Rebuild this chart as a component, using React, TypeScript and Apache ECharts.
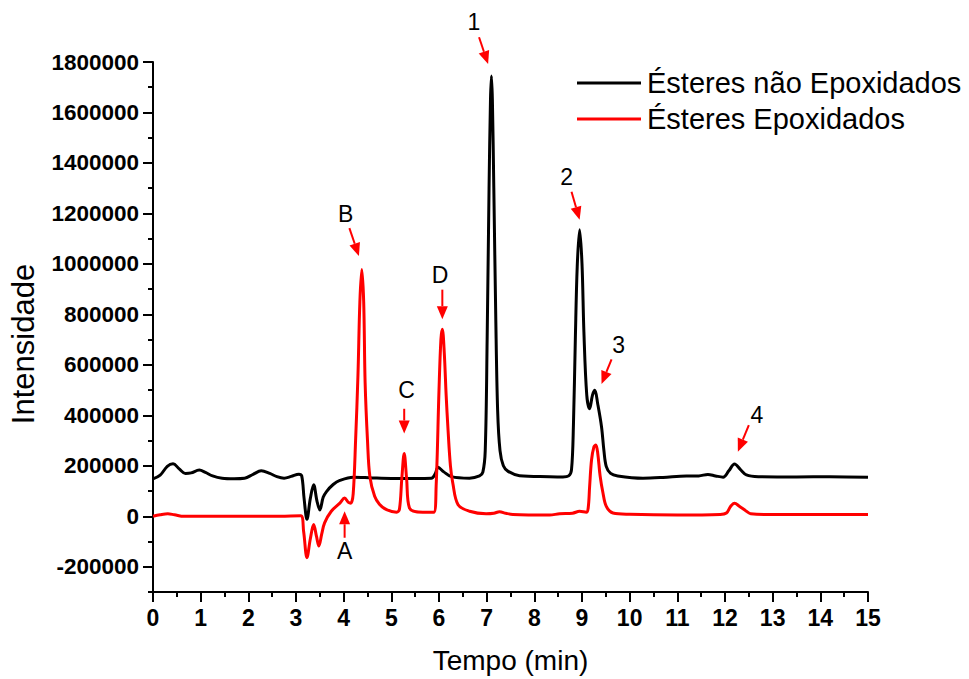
import React, { useEffect, useRef } from "react";
import * as echarts from "echarts";

const FONT = '"Liberation Sans", Arial, Helvetica, sans-serif';

const seriesNames = ["Ésteres não Epoxidados", "Ésteres Epoxidados"];
const seriesColors = ["#000000", "#ff0000"];

// Tempo (min), Intensidade
const naoEpoxidados: [number, number][] = [
  [0, 148000], [0.15, 163000], [0.3, 198000], [0.42, 208000], [0.55, 188000], [0.68, 170000],
  [0.8, 172000], [0.97, 183000], [1.1, 174000], [1.25, 160000], [1.45, 151000], [1.7, 149000],
  [1.92, 151000], [2.1, 166000], [2.27, 180000], [2.45, 170000], [2.6, 157000], [2.75, 151000],
  [2.9, 158000], [3.06, 167000], [3.12, 160000], [3.17, 70000], [3.23, -12000], [3.3, 70000],
  [3.37, 125000], [3.44, 60000], [3.5, 25000], [3.57, 75000], [3.64, 98000], [3.78, 126000],
  [3.92, 142000], [4.2, 155000], [4.6, 152000], [5.0, 150000], [5.5, 150000], [5.84, 151000],
  [5.92, 168000], [5.98, 194000], [6.1, 176000], [6.26, 157000], [6.64, 151000], [6.85, 160000],
  [6.92, 175000], [6.97, 260000], [7.01, 700000], [7.05, 1300000], [7.08, 1650000], [7.1, 1745000],
  [7.12, 1650000], [7.15, 1300000], [7.19, 800000], [7.23, 420000], [7.28, 260000], [7.35, 200000],
  [7.45, 178000], [7.69, 161000], [8.32, 157000], [8.6, 156000], [8.72, 160000], [8.78, 185000],
  [8.82, 360000], [8.86, 700000], [8.9, 990000], [8.95, 1135000], [9.0, 1000000], [9.04, 730000],
  [9.1, 480000], [9.16, 426000], [9.22, 480000], [9.27, 499000], [9.33, 445000], [9.41, 354000],
  [9.46, 260000], [9.51, 197000], [9.6, 170000], [9.75, 160000], [10.28, 151000], [10.7, 154000],
  [11.19, 160000], [11.45, 160000], [11.64, 166000], [11.8, 160000], [11.96, 155000], [12.08, 180000],
  [12.2, 207000], [12.32, 186000], [12.45, 164000], [12.7, 157000], [13.5, 156000], [14.2, 157000],
  [15, 155000],
];

const epoxidados: [number, number][] = [
  [0, 0], [0.15, 6000], [0.31, 10000], [0.45, 6000], [0.65, 0], [1.5, 0], [2.5, 0], [3.1, 2000],
  [3.16, -60000], [3.23, -164000], [3.3, -90000], [3.37, -33000], [3.43, -80000], [3.48, -118000],
  [3.54, -70000], [3.6, -26000], [3.74, 20000], [3.92, 52000], [4.02, 72000], [4.1, 55000],
  [4.15, 52000], [4.2, 90000], [4.25, 300000], [4.3, 560000], [4.34, 850000], [4.38, 978000],
  [4.42, 850000], [4.45, 530000], [4.5, 300000], [4.55, 157000], [4.65, 79000], [4.75, 48000],
  [4.9, 26000], [5.11, 16000], [5.17, 28000], [5.22, 150000], [5.27, 249000], [5.32, 150000],
  [5.38, 33000], [5.66, 16000], [5.89, 16000], [5.94, 120000], [6.0, 500000], [6.04, 700000],
  [6.07, 741000], [6.11, 650000], [6.15, 480000], [6.19, 341000], [6.24, 200000], [6.29, 131000],
  [6.4, 46000], [6.64, 20000], [6.99, 10000], [7.15, 12000], [7.27, 18000], [7.4, 12000],
  [7.55, 7000], [8.32, 5000], [8.53, 10000], [8.8, 12000], [8.95, 20000], [9.09, 16000],
  [9.13, 33000], [9.16, 118000], [9.2, 223000], [9.25, 275000], [9.29, 282000], [9.33, 250000],
  [9.38, 160000], [9.44, 92000], [9.51, 39000], [9.65, 13000], [10, 8000], [11, 5000],
  [11.9, 7000], [12.03, 13000], [12.12, 40000], [12.2, 52000], [12.3, 40000], [12.45, 20000],
  [12.54, 10000], [13, 7000], [15, 7000],
];

const yTickValues = [
  -200000, 0, 200000, 400000, 600000, 800000, 1000000, 1200000, 1400000, 1600000, 1800000,
];

// Peak marks: label text, label centre, arrow tail and arrow tip (data coordinates)
const peakLabels = ["1", "2", "3", "4", "A", "B", "C", "D"];
const labelAt: [number, number][] = [
  [6.73, 1960000], [8.68, 1346000], [9.77, 677000], [12.67, 402000],
  [4.02, -136000], [4.04, 1197000], [5.32, 499000], [6.02, 957000],
];
const arrowFrom: [number, number][] = [
  [6.84, 1898000], [8.78, 1286000], [9.62, 622000], [12.5, 361000],
  [4.02, -85000], [4.12, 1142000], [5.27, 426000], [6.07, 898000],
];
const arrowTo: [number, number][] = [
  [7.03, 1792000], [8.95, 1175000], [9.41, 524000], [12.27, 256000],
  [4.02, 20000], [4.32, 1031000], [5.27, 328000], [6.07, 781000],
];

export default function App() {
  const ref = useRef<HTMLDivElement>(null);

  useEffect(() => {
    document.body.style.margin = "0";
    if (!ref.current) return;
    const chart = echarts.init(ref.current, null, { renderer: "svg" });

    const axisLineStyle = { color: "#000", width: 2 };

    chart.setOption({
      animation: false,
      backgroundColor: "#ffffff",
      grid: { left: 153, right: 101, top: 62, bottom: 83 },
      legend: {
        orient: "vertical",
        left: 572,
        top: 63,
        icon: "rect",
        itemWidth: 64,
        itemHeight: 3,
        itemGap: 6,
        data: seriesNames,
        textStyle: {
          color: "#000",
          fontSize: 29,
          lineHeight: 30,
          fontFamily: FONT,
          padding: [0, 0, 0, 1],
        },
      },
      xAxis: {
        type: "value",
        min: 0,
        max: 15,
        interval: 1,
        axisLine: { onZero: false, lineStyle: axisLineStyle },
        axisTick: { length: 10, lineStyle: axisLineStyle },
        minorTick: { show: true, splitNumber: 2, length: 5, lineStyle: axisLineStyle },
        splitLine: { show: false },
        axisLabel: {
          color: "#000",
          fontSize: 23,
          fontWeight: "bold",
          fontFamily: FONT,
          margin: 14,
        },
        name: "Tempo (min)",
        nameLocation: "middle",
        nameGap: 54,
        nameTextStyle: { color: "#000", fontSize: 28, fontFamily: FONT },
      },
      yAxis: [
        {
          type: "value",
          min: -300000,
          max: 1800000,
          interval: 100000,
          position: "left",
          axisLine: { show: true, onZero: false, lineStyle: axisLineStyle },
          axisTick: { length: 5, lineStyle: axisLineStyle },
          axisLabel: { show: false },
          splitLine: { show: false },
        },
        {
          type: "value",
          min: -300000,
          max: 1800000,
          position: "left",
          axisLine: { show: false },
          axisTick: { show: true, length: 10, customValues: yTickValues, lineStyle: axisLineStyle },
          axisLabel: {
            customValues: yTickValues,
            formatter: (v: number) => String(v),
            color: "#000",
            fontSize: 22.5,
            fontWeight: "bold",
            fontFamily: FONT,
            margin: 14,
          },
          splitLine: { show: false },
          name: "Intensidade",
          nameLocation: "middle",
          nameRotate: 90,
          nameGap: 114,
          nameTextStyle: {
            color: "#000",
            fontSize: 31,
            fontFamily: FONT,
            padding: [0, 34, 0, 0],
          },
        },
      ],
      series: [
        {
          name: seriesNames[0],
          type: "line",
          yAxisIndex: 0,
          data: naoEpoxidados,
          showSymbol: false,
          smooth: 0.35,
          color: seriesColors[0],
          lineStyle: { color: seriesColors[0], width: 3 },
        },
        {
          name: seriesNames[1],
          type: "line",
          yAxisIndex: 0,
          data: epoxidados,
          showSymbol: false,
          smooth: 0.35,
          color: seriesColors[1],
          lineStyle: { color: seriesColors[1], width: 3 },
        },
      ],
    });

    // Red arrows and peak labels placed through the axis scales
    const toPx = (p: [number, number]) =>
      chart.convertToPixel({ xAxisIndex: 0, yAxisIndex: 0 }, p) as number[];
    const elements: any[] = [];
    const headLen = 13;
    const headHalf = 5.5;
    peakLabels.forEach((label, i) => {
      const [x1, y1] = toPx(arrowFrom[i]);
      const [x2, y2] = toPx(arrowTo[i]);
      const dx = x2 - x1;
      const dy = y2 - y1;
      const len = Math.hypot(dx, dy) || 1;
      const ux = dx / len;
      const uy = dy / len;
      const bx = x2 - ux * headLen;
      const by = y2 - uy * headLen;
      elements.push({
        type: "line",
        shape: { x1, y1, x2: bx, y2: by },
        style: { stroke: "#ff0000", lineWidth: 2 },
        z: 100,
      });
      elements.push({
        type: "polygon",
        shape: {
          points: [
            [x2, y2],
            [bx - uy * headHalf, by + ux * headHalf],
            [bx + uy * headHalf, by - ux * headHalf],
          ],
        },
        style: { fill: "#ff0000" },
        z: 100,
      });
      const [lx, ly] = toPx(labelAt[i]);
      elements.push({
        type: "text",
        x: lx,
        y: ly,
        style: {
          text: label,
          fill: "#000",
          fontSize: 23,
          fontFamily: FONT,
          align: "center",
          verticalAlign: "middle",
          textAlign: "center",
          textVerticalAlign: "middle",
        },
        z: 100,
      });
    });
    chart.setOption({ graphic: { elements } });

    return () => chart.dispose();
  }, []);

  return <div ref={ref} style={{ width: 969, height: 679 }} />;
}
